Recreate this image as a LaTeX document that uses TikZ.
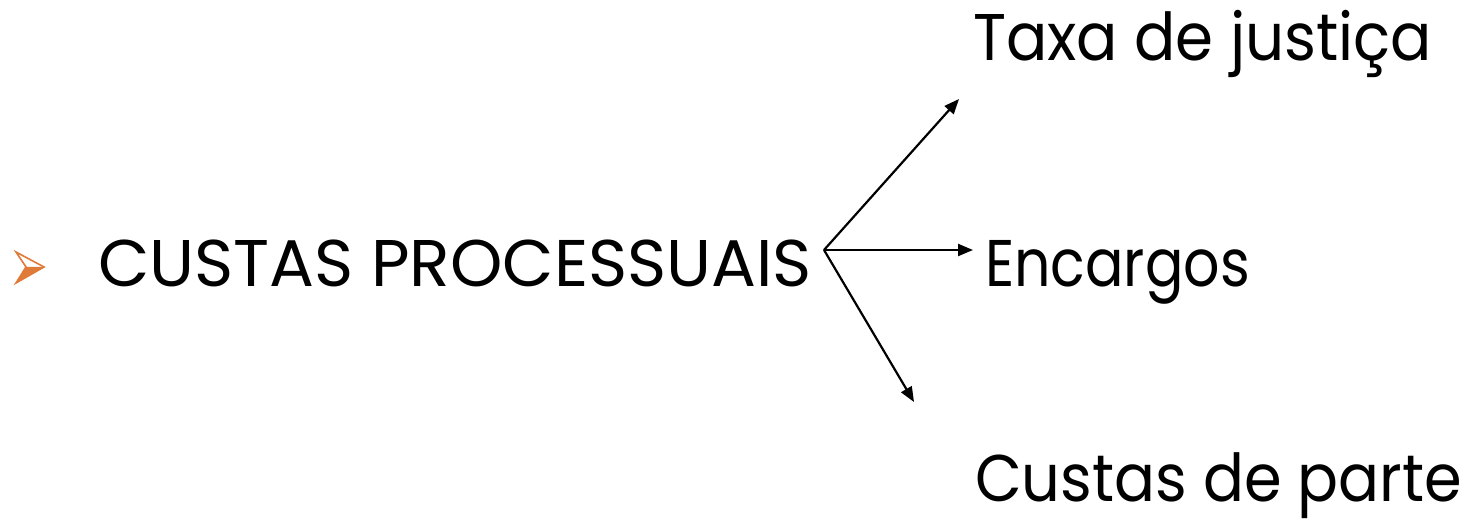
\documentclass[tikz,border=0pt]{standalone}
\usepackage{fontspec}
\setmainfont{Poppins}
\usepackage{graphicx}
\usetikzlibrary{arrows.meta}
\definecolor{bulletorange}{HTML}{E07A38}
\tikzset{
  lbl/.style={anchor=base west, inner sep=0pt, outer sep=0pt, font=\fontsize{66}{70}\selectfont},
  conn/.style={line width=2.2pt, -{Triangle[length=15pt,width=12pt]}},
}
\begin{document}
\begin{tikzpicture}[x=1pt,y=1pt]
\useasboundingbox (0,0) rectangle (1469,-521);
% bullet
\fill[bulletorange] (26,-267) -- (44,-267) -- (16,-283) -- cycle;
\draw[bulletorange, line width=1.6pt, line join=miter] (16,-252) -- (44,-267) -- (16,-283) -- (26,-267) -- cycle;
% labels
\node[lbl] (main) at (98,-287) {\resizebox{714pt}{\height}{CUSTAS PROCESSUAIS}};
\node[lbl] (taxa) at (973,-61) {\resizebox{459pt}{\height}{Taxa de justiça}};
\node[lbl] (enc) at (985,-287) {\resizebox{265pt}{\height}{Encargos}};
\node[lbl] (cust) at (975,-501) {\resizebox{487pt}{\height}{Custas de parte}};
% connectors
\coordinate (hub) at (824,-250);
\coordinate (t1) at (959,-99);
\coordinate (t2) at (973,-250);
\coordinate (t3) at (914,-402);
\draw[conn] (hub) -- (t1);
\draw[conn] (hub) -- (t2);
\draw[conn] (hub) -- (t3);
\end{tikzpicture}
\end{document}
